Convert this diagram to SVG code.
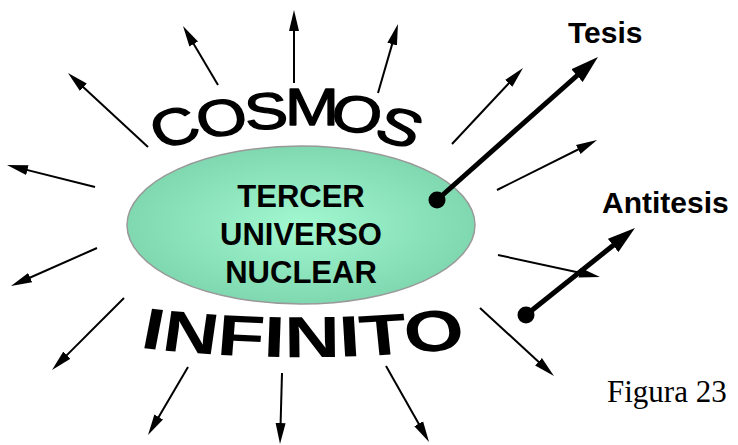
<svg xmlns="http://www.w3.org/2000/svg" width="738" height="445" viewBox="0 0 738 445">
  <style>
    .thin { stroke: #000; stroke-width: 2; fill: none; marker-end: url(#ah); }
    .thick { stroke: #000; stroke-width: 5; fill: none; marker-end: url(#ahb); }
    .dot { fill: #000; }
    .core { font-family: "Liberation Sans", Arial, sans-serif; font-weight: bold; font-size: 31px; fill: #000; text-anchor: middle; }
    .lbl { font-family: "Liberation Sans", Arial, sans-serif; font-weight: bold; font-size: 30px; fill: #000; }
    .fig { font-family: "Liberation Serif", "Times New Roman", serif; font-size: 31px; fill: #000; }
    .arc1 { font-family: "Liberation Sans", Arial, sans-serif; font-size: 54px; fill: #000; stroke: #000; stroke-width: 1.4; stroke-linejoin: round; }
    .arc2 { font-family: "Liberation Sans", Arial, sans-serif; font-weight: bold; font-size: 58px; fill: #000; }
  </style>
  <defs>
    <radialGradient id="g" cx="50%" cy="50%" r="50%">
      <stop offset="0" stop-color="#a2f8d1"/>
      <stop offset="1" stop-color="#7fd8af"/>
    </radialGradient>
    <marker id="ah" markerUnits="userSpaceOnUse" markerWidth="22" markerHeight="12" refX="11" refY="6" orient="auto">
      <path d="M0,1 L21,6 L0,11 z" fill="#000"/>
    </marker>
    <marker id="ahb" markerUnits="userSpaceOnUse" markerWidth="30" markerHeight="18" refX="10" refY="9" orient="auto">
      <path d="M0,0.5 L28,9 L0,17.5 z" fill="#000"/>
    </marker>
    <path id="pi" d="M -150,343 A 800,800 0 0,0 150,343"/>
  </defs>

  <g id="connectors">
    <line class="thin" x1="148" y1="147" x2="75.3" y2="79.8"/>
    <line class="thin" x1="218" y1="85" x2="188.1" y2="34.6"/>
    <line class="thin" x1="294" y1="83" x2="294" y2="20"/>
    <line class="thin" x1="378" y1="93" x2="395.2" y2="33.6"/>
    <line class="thin" x1="452" y1="144" x2="516.2" y2="75.3"/>
    <line class="thin" x1="497" y1="190" x2="588.1" y2="144.5"/>
    <line class="thin" x1="498" y1="255" x2="590.2" y2="274.9"/>
    <line class="thin" x1="480" y1="308" x2="546.6" y2="369.2"/>
    <line class="thin" x1="188" y1="367" x2="153.1" y2="426.4"/>
    <line class="thin" x1="282" y1="373" x2="280.3" y2="434"/>
    <line class="thin" x1="386" y1="366" x2="424.1" y2="433.3"/>
    <line class="thin" x1="95" y1="187" x2="16.7" y2="167.4"/>
    <line class="thin" x1="97" y1="248" x2="20.1" y2="282"/>
    <line class="thin" x1="124" y1="298" x2="59.1" y2="362.9"/>
  </g>

  <g id="nucleo">
    <ellipse cx="301" cy="225" rx="174" ry="79" fill="url(#g)" stroke="#999" stroke-width="1.5"/>
    <text class="core" x="301" y="207">TERCER</text>
    <text class="core" x="301" y="245">UNIVERSO</text>
    <text class="core" x="301" y="283">NUCLEAR</text>
  </g>

  <g id="tesis-arrow">
    <line class="thick" x1="437" y1="200" x2="584.5" y2="69"/>
    <circle class="dot" cx="437" cy="200" r="8.5"/>
  </g>
  <g id="antitesis-arrow">
    <line class="thick" x1="526" y1="315" x2="620.9" y2="239.2"/>
    <circle class="dot" cx="526" cy="315" r="8.5"/>
  </g>

  <g id="cosmos" transform="translate(290,0) scale(1.2,0.95)">
    <text class="arc1" x="-108.3 -74.2 -36.7 -4.2 32.5 68.3" y="157.9 146.3 136.8 131.6 135.8 145.3" rotate="-20 -11 -4 0 8 20">COSMOS</text>
  </g>
  <g id="infinito" transform="translate(303,0) scale(1.33,1)">
    <text class="arc2"><textPath href="#pi" startOffset="50%" text-anchor="middle">INFINITO</textPath></text>
  </g>

  <g id="tesis"><text class="lbl" x="568" y="43">Tesis</text></g>
  <g id="antitesis"><text class="lbl" x="602" y="213">Antitesis</text></g>
  <g id="figura"><text class="fig" x="607" y="402">Figura 23</text></g>
</svg>
